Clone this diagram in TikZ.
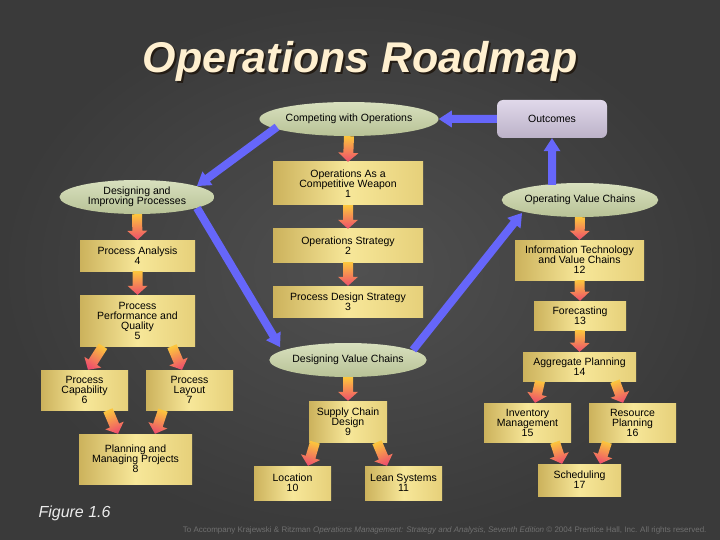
\documentclass[tikz,border=0pt]{standalone}
\usepackage{fontspec}
\setmainfont{Liberation Sans}
\usetikzlibrary{shapes.geometric,calc}

\definecolor{bgin}{RGB}{80,80,80}
\definecolor{bgout}{RGB}{58,58,58}
\definecolor{sageL}{RGB}{216,224,190}
\definecolor{sageD}{RGB}{184,194,150}
\definecolor{goldD}{RGB}{204,178,92}
\definecolor{goldL}{RGB}{247,231,153}
\definecolor{goldM}{RGB}{230,208,122}
\definecolor{lilacL}{RGB}{224,216,234}
\definecolor{lilacD}{RGB}{188,178,200}
\definecolor{flowtop}{RGB}{252,198,60}
\definecolor{flowtip}{RGB}{238,78,108}
\definecolor{loopblue}{RGB}{102,102,250}
\definecolor{titlecream}{RGB}{255,240,208}
\definecolor{titleshade}{RGB}{36,28,20}
\definecolor{footgray}{RGB}{112,112,112}

\tikzset{
  boxfont/.style={font=\fontsize{10.5}{10}\selectfont},
  topic/.style={ellipse, inner sep=0pt, align=center, boxfont,
    top color=sageL, bottom color=sageD},
  chapter/.style={rectangle, inner sep=0pt, align=center, boxfont,
    left color=goldD, right color=goldM, middle color=goldL},
  outcome/.style={rectangle, rounded corners=6pt, inner sep=0pt, boxfont,
    top color=lilacL, bottom color=lilacD},
  orangeflow/.style={shade, top color=flowtop, bottom color=flowtip, shading angle=\fshade},
  blueflow/.style={fill=loopblue}
}

% direction and length between two points
\newcommand\getdir[2]{%
  \path (#1) coordinate (fa) (#2) coordinate (fb);
  \pgfmathanglebetweenpoints{\pgfpointanchor{fa}{center}}{\pgfpointanchor{fb}{center}}%
  \let\fang\pgfmathresult
  \pgfmathsetmacro\fshade{\fang+90}%
  \pgfpointdiff{\pgfpointanchor{fa}{center}}{\pgfpointanchor{fb}{center}}%
  \pgfgetlastxy{\fdx}{\fdy}%
  \pgfmathsetmacro\flen{veclen(\fdx,\fdy)}}
% block arrow: style, half shaft, half head, head length
\newcommand\arrowbody[4]{%
  \begin{scope}[shift={(fa)}, rotate=\fang]
    \path[#1] (0pt,-#2pt) -- ({\flen pt-#4pt},-#2pt) -- ({\flen pt-#4pt},-#3pt)
      -- (\flen pt,0pt) -- ({\flen pt-#4pt},#3pt) -- ({\flen pt-#4pt},#2pt)
      -- (0pt,#2pt) -- cycle;
  \end{scope}}
\newcommand\flow[2]{\getdir{#1}{#2}\arrowbody{orangeflow}{5}{10}{9}}
\newcommand\loopflow[2]{\getdir{#1}{#2}\arrowbody{blueflow}{4}{8.5}{13}}

\begin{document}
\begin{tikzpicture}[x=1pt, y=-1pt]
  % Background
  \path[inner color=bgin, outer color=bgout] (0,0) rectangle (720,540);
  \useasboundingbox (0,0) rectangle (720,540);
  % Title
  \node[anchor=base, text=titleshade, font=\fontsize{43}{43}\selectfont\bfseries\itshape]
    at (362,75) {Operations Roadmap};
  \node[anchor=base, text=titlecream, font=\fontsize{43}{43}\selectfont\bfseries\itshape]
    (title) at (360,73) {Operations Roadmap};
  % Main topics
  \node[topic, minimum width=158pt, minimum height=34pt] (compete) at (349,119) {Competing with Operations};
  \node[topic, minimum width=155pt, minimum height=34pt] (design) at (137,197) {Designing and\\Improving Processes};
  \node[topic, minimum width=156pt, minimum height=34pt] (operate) at (580,200) {Operating Value Chains};
  \node[topic, minimum width=156pt, minimum height=34pt] (dvc) at (348,360) {Designing Value Chains};
  \node[outcome, minimum width=110pt, minimum height=38pt] (outcomes) at (552,119) {Outcomes};
  % Chapters, middle column
  \node[chapter, minimum width=150pt, minimum height=43pt] (weapon) at (348,183.5) {Operations As a\\Competitive Weapon\\1};
  \node[chapter, minimum width=150pt, minimum height=33pt] (strategy) at (348,245.5) {Operations Strategy\\2};
  \node[chapter, minimum width=150pt, minimum height=31pt] (pdstrategy) at (348,301.5) {Process Design Strategy\\3};
  \node[chapter, minimum width=78pt, minimum height=41pt] (supply) at (348,421.5) {Supply Chain\\Design\\9};
  \node[chapter, minimum width=77pt, minimum height=34pt] (location) at (292.5,483) {Location\\10};
  \node[chapter, minimum width=77pt, minimum height=34pt] (lean) at (403.5,483) {Lean Systems\\11};
  % Chapters, left column
  \node[chapter, minimum width=115pt, minimum height=31pt] (analysis) at (137.5,255.5) {Process Analysis\\4};
  \node[chapter, minimum width=115pt, minimum height=51pt] (perf) at (137.5,320.5) {Process\\Performance and\\Quality\\5};
  \node[chapter, minimum width=87pt, minimum height=40pt] (capab) at (84.5,390) {Process\\Capability\\6};
  \node[chapter, minimum width=87pt, minimum height=40pt] (layout) at (189.5,390) {Process\\Layout\\7};
  \node[chapter, minimum width=113pt, minimum height=50pt] (projects) at (135.5,459) {Planning and\\Managing Projects\\8};
  % Chapters, right column
  \node[chapter, minimum width=129pt, minimum height=40pt] (infotech) at (579.5,260) {Information Technology\\and Value Chains\\12};
  \node[chapter, minimum width=92pt, minimum height=29pt] (forecast) at (580,315.5) {Forecasting\\13};
  \node[chapter, minimum width=113pt, minimum height=29pt] (aggregate) at (579.5,366.5) {Aggregate Planning\\14};
  \node[chapter, minimum width=87pt, minimum height=39pt] (inventory) at (527.5,422.5) {Inventory\\Management\\15};
  \node[chapter, minimum width=87pt, minimum height=39pt] (resource) at (632.5,422.5) {Resource\\Planning\\16};
  \node[chapter, minimum width=83pt, minimum height=32pt] (schedule) at (579.5,480) {Scheduling\\17};
  % Blue loop
  \loopflow{outcomes.west}{compete.east}
  \loopflow{$(operate.north)+(-28,2)$}{outcomes.south}
  \loopflow{$(compete.center)+(-72,8)$}{$(design.center)+(60,-11)$}
  \loopflow{$(design.center)+(60,11)$}{$(dvc.center)+(-68,-13)$}
  \loopflow{$(dvc.center)+(65,-10)$}{$(operate.center)+(-58,13)$}
  % Chapter flows
  \flow{compete.south}{weapon.north}
  \flow{weapon.south}{strategy.north}
  \flow{strategy.south}{pdstrategy.north}
  \flow{design.south}{analysis.north}
  \flow{analysis.south}{perf.north}
  \flow{$(perf.south)+(-34.5,0)$}{$(capab.north)+(3.5,0)$}
  \flow{$(perf.south)+(34.5,0)$}{$(layout.north)+(-7.5,0)$}
  \flow{$(capab.south)+(23.5,0)$}{$(projects.north)+(-17.5,0)$}
  \flow{$(layout.south)+(-26.5,0)$}{$(projects.north)+(19.5,0)$}
  \flow{dvc.south}{supply.north}
  \flow{$(supply.south)+(-33,0)$}{$(location.north)+(15.5,0)$}
  \flow{$(supply.south)+(29,0)$}{$(lean.north)+(-16.5,0)$}
  \flow{operate.south}{infotech.north}
  \flow{infotech.south}{forecast.north}
  \flow{forecast.south}{aggregate.north}
  \flow{$(aggregate.south)+(-39.5,0)$}{$(inventory.north)+(7.5,0)$}
  \flow{$(aggregate.south)+(35.5,0)$}{$(resource.north)+(-9.5,0)$}
  \flow{$(inventory.south)+(27.5,0)$}{$(schedule.north)+(-17.5,0)$}
  \flow{$(resource.south)+(-25.5,0)$}{$(schedule.north)+(20.5,0)$}
  % Figure number and footer
  \node[anchor=base west, text=white!92!black, font=\fontsize{16}{16}\selectfont\itshape]
    (fignum) at (35,517) {Figure 1.6};
  \node[anchor=base east, text=footgray, font=\fontsize{8}{8}\selectfont]
    (footer) at (710,532) {To Accompany Krajewski \& Ritzman \textit{Operations Management: Strategy and Analysis, Seventh Edition} \textcopyright{} 2004 Prentice Hall, Inc. All rights reserved.};
\end{tikzpicture}
\end{document}
